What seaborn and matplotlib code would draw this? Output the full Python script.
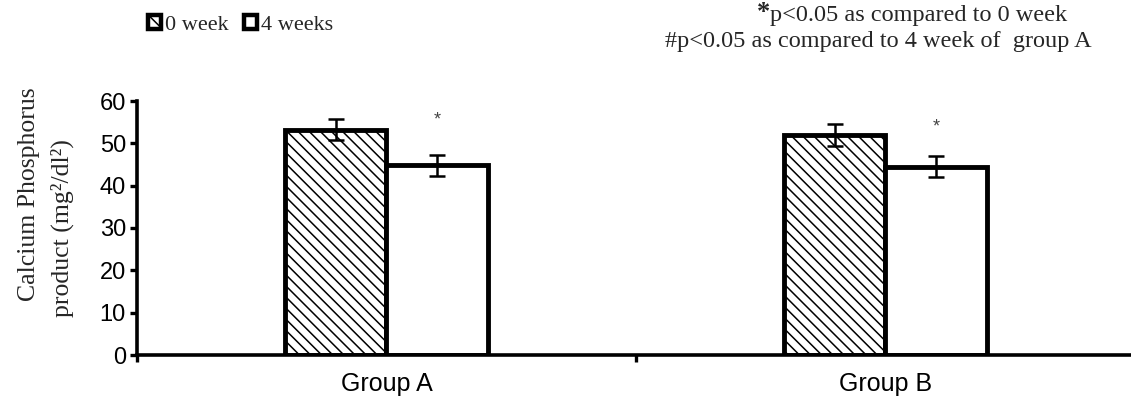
import matplotlib
matplotlib.use("Agg")
import matplotlib.pyplot as plt
from matplotlib.patches import Patch
import seaborn as sns
import pandas as pd

# Calcium-phosphorus product per group, at baseline and after 4 weeks
groups = ["Group A", "Group B"]
weeks = ["0 week", "4 weeks"]
week0_mean = [53.2, 52.0]
week4_mean = [44.8, 44.5]
week0_err = [2.5, 2.6]
week4_err = [2.5, 2.5]
sig_marks = ["*", "*"]
sig_heights = [55.5, 53.9]
y_ticks = [0, 10, 20, 30, 40, 50, 60]

sns.set_theme(style="white")
plt.rcParams["font.family"] = ["Liberation Serif", "DejaVu Sans"]
plt.rcParams["hatch.linewidth"] = 1.1

SANS = ["Liberation Sans", "DejaVu Sans"]
W, H = 1131, 404
fig = plt.figure(figsize=(W / 100, H / 100), dpi=100)
ax = fig.add_axes([137 / W, (H - 355) / H, 1 - 137 / W, (355 - 101) / H])

df = pd.DataFrame({
    "group": groups * 2,
    "week": [weeks[0]] * 2 + [weeks[1]] * 2,
    "value": week0_mean + week4_mean,
})

sns.barplot(data=df, x="group", y="value", hue="week", order=groups,
            hue_order=weeks, palette=["white", "white"], saturation=1,
            width=0.405, edgecolor="black", linewidth=3.5, errorbar=None,
            legend=False, ax=ax)

errs = [week0_err, week4_err]
bar_groups = list(ax.containers)
for ci, cont in enumerate(bar_groups):
    for bi, bar in enumerate(cont):
        if ci == 0:
            bar.set_hatch("\\\\\\")
        xc = bar.get_x() + bar.get_width() / 2
        ax.errorbar(xc, bar.get_height(), yerr=errs[ci][bi], color="black",
                    elinewidth=1.8, capsize=6, capthick=1.8, zorder=5)
        if ci == 1:
            ax.text(xc, sig_heights[bi], sig_marks[bi], ha="center",
                    va="center", fontsize=13, color="#444444", family=SANS)

ax.set_ylim(0, 60)
ax.set_xlim(-0.5, 1.492)
ax.set_yticks(y_ticks)
ax.set_yticklabels([str(t) for t in y_ticks], family=SANS, fontsize=17)
ax.set_xticks([-0.5, 0.5])
ax.set_xticklabels(["", ""])
ax.set_xticks([0, 1], minor=True)
ax.set_xticklabels(groups, minor=True, fontsize=18, family=SANS)
ax.tick_params(axis="x", which="major", direction="out", length=5, width=2.4,
               bottom=True, color="black")
ax.tick_params(axis="x", which="minor", length=0, pad=12, colors="black")
ax.tick_params(axis="y", direction="out", length=5, width=2.4, left=True,
               color="black", pad=3, labelcolor="black")
ax.set_xlabel("")
ax.set_ylabel("")
for side in ["top", "right"]:
    ax.spines[side].set_visible(False)
for side in ["left", "bottom"]:
    ax.spines[side].set_linewidth(2.6)
    ax.spines[side].set_color("black")
ax.grid(False)

# y-axis title in two lines
fig.text(29 / W, 1 - 194 / H, "Calcium Phosphorus", rotation=90,
         ha="center", va="center", fontsize=18.5)
fig.text(62 / W, 1 - 228 / H, "product (mg²/dl²)", rotation=90,
         ha="center", va="center", fontsize=18.5)

# legend
handles = [Patch(facecolor="white", edgecolor="black", hatch="\\\\", linewidth=3.2),
           Patch(facecolor="white", edgecolor="black", linewidth=3.2)]
fig.legend(handles, weeks, loc="center left", bbox_to_anchor=(148 / W, 1 - 25 / H),
           ncol=2, frameon=False, fontsize=16, handlelength=0.6, handleheight=0.6,
           handletextpad=0.15, columnspacing=0.7, borderpad=0, borderaxespad=0)

# significance notes
note1 = fig.text(1067 / W, 1 - 15 / H, "p<0.05 as compared to 0 week",
                 ha="right", va="center", fontsize=17.5)
note2 = fig.text(1092 / W, 1 - 42 / H, "#p<0.05 as compared to 4 week of  group A",
                 ha="right", va="center", fontsize=17.5)
fig.canvas.draw()
bb = note1.get_window_extent(fig.canvas.get_renderer())
fig.text(bb.x0 / W, 1 - 12 / H, "*", ha="right", va="center", fontsize=19,
         fontweight="bold")

fig.savefig("out.png", dpi=100)
